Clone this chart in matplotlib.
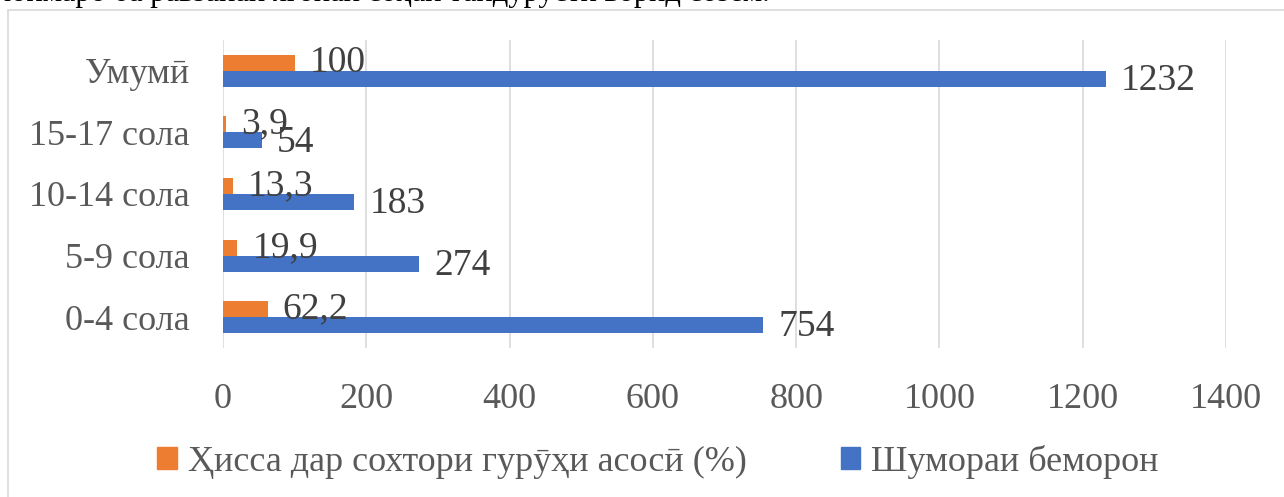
import matplotlib.pyplot as plt
from matplotlib.patches import Rectangle, Patch

plt.rcParams['font.family'] = ['Liberation Serif', 'DejaVu Serif']

categories = ['0-4 сола', '5-9 сола', '10-14 сола', '15-17 сола', 'Умумӣ']
share = [62.2, 19.9, 13.3, 3.9, 100]
share_labels = ['62,2', '19,9', '13,3', '3,9', '100']
patients = [754, 274, 183, 54, 1232]
share_name = 'Ҳисса дар сохтори гурӯҳи асосӣ (%)'
patients_name = 'Шумораи беморон'
xticks = [0, 200, 400, 600, 800, 1000, 1200, 1400]

orange = '#ED7D31'
blue = '#4472C4'
grey = '#595959'

fig = plt.figure(figsize=(12.84, 4.97), dpi=100)
ax = fig.add_axes([223 / 1284, 1 - 348 / 497, 1003 / 1284, 308 / 497])

# chart frame and clipped text line from the page above
fig.patches.append(Rectangle((8 / 1284, -0.1), 1.1, 1 - 10 / 497 + 0.1,
                             transform=fig.transFigure, fill=False,
                             edgecolor='#D9D9D9', linewidth=1.2))
fig.text(-0.003, 1 - 1 / 497, 'лоимаро ба равзанаи ягонаи соҳаи тандурустӣ ворид созем.',
         fontsize=22, va='baseline', ha='left', color='black')

y = range(len(categories))
h = 0.26
ax.barh([i + h / 2 for i in y], share, height=h, color=orange, label=share_name)
ax.barh([i - h / 2 for i in y], patients, height=h, color=blue, label=patients_name)

for i in y:
    ax.annotate(share_labels[i], (share[i], i + h / 2), xytext=(11, 0),
                textcoords='offset points', va='center', ha='left',
                fontsize=27, color='#404040')
    ax.annotate(str(patients[i]), (patients[i], i - h / 2 - 0.03), xytext=(11, 0),
                textcoords='offset points', va='center', ha='left',
                fontsize=27, color='#404040')

ax.set_xlim(0, 1400)
ax.set_ylim(-0.5, 4.5)
ax.set_xticks(xticks)
ax.set_yticks(list(y))
ax.set_yticklabels(categories)
ax.tick_params(axis='x', length=0, pad=25, labelsize=26, labelcolor=grey)
ax.tick_params(axis='y', length=0, pad=24, labelsize=26, labelcolor=grey)
ax.grid(axis='x', color='#D9D9D9', linewidth=1.2)
ax.set_axisbelow(True)
for s in ax.spines.values():
    s.set_visible(False)

handles = [Patch(color=orange), Patch(color=blue)]
fig.legend(handles, [share_name, patients_name], loc='center',
           bbox_to_anchor=(658 / 1284, 1 - 462 / 497), ncol=2, frameon=False,
           fontsize=26, labelcolor=grey, handlelength=0.55, handleheight=0.55,
           handletextpad=0.3, columnspacing=2.6)

fig.savefig('out.png', dpi=100)
